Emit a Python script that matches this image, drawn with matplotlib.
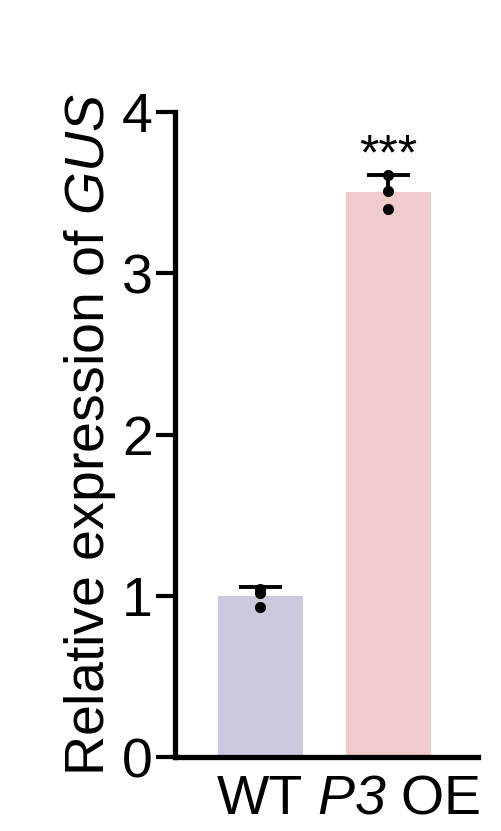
import numpy as np
import matplotlib
matplotlib.use("Agg")
import matplotlib.pyplot as plt
from matplotlib.transforms import ScaledTranslation

plt.rcParams['font.family'] = ['Liberation Sans', 'DejaVu Sans']
plt.rcParams['mathtext.fontset'] = 'custom'
plt.rcParams['mathtext.rm'] = 'Liberation Sans'
# mathtext keeps digits upright in \mathit, so use the bf slot for italic text
plt.rcParams['mathtext.bf'] = 'Liberation Sans:italic'

# data
groups = ['WT', r'$\mathbf{P3}$ OE']
replicates = [
    [1.04, 1.02, 0.93],
    [3.61, 3.51, 3.40],
]
bar_colors = ['#cdc8de', '#f2cbcd']
signif = ['', '***']

means = np.array([np.mean(r) for r in replicates])
sds = np.array([np.std(r, ddof=1) for r in replicates])
x = np.arange(len(groups))

fig = plt.figure(figsize=(5.01, 8.31), dpi=100)
ax = fig.add_axes([0.349, 0.089, 0.605, 0.776])

ax.bar(x, means, width=0.66, color=bar_colors, zorder=1)
# upper error bar only
ax.vlines(x, means, means + sds, color='black', lw=2.8, zorder=2)
ax.hlines(means + sds, x - 0.17, x + 0.17, color='black', lw=2.8, zorder=2)
for xi, reps in zip(x, replicates):
    ax.plot([xi] * len(reps), reps, 'o', color='black', ms=7, zorder=3)

for xi, m, s, lab in zip(x, means, sds, signif):
    if lab:
        ax.text(xi, m + s - 0.03, lab, ha='center', va='bottom', fontsize=36)

ax.set_xlim(-0.668, 1.70)
ax.set_ylim(0, 4)
ax.set_yticks([0, 1, 2, 3, 4])
ax.set_xticks(x)
ax.set_xticklabels(groups)
ax.set_ylabel(r'Relative expression of $\mathbf{GUS}$', fontsize=40, labelpad=3)

for side in ['top', 'right']:
    ax.spines[side].set_visible(False)
for side in ['left', 'bottom']:
    ax.spines[side].set_linewidth(3.8)
ax.tick_params(axis='y', direction='out', length=14, width=3, pad=2, labelsize=40)
ax.tick_params(axis='x', length=0, pad=12, labelsize=40)

# second label sits a little to the right in the original
lab2 = ax.get_xticklabels()[1]
lab2.set_transform(lab2.get_transform() + ScaledTranslation(7 / 72, 0, fig.dpi_scale_trans))

fig.savefig('out.png', dpi=100)
